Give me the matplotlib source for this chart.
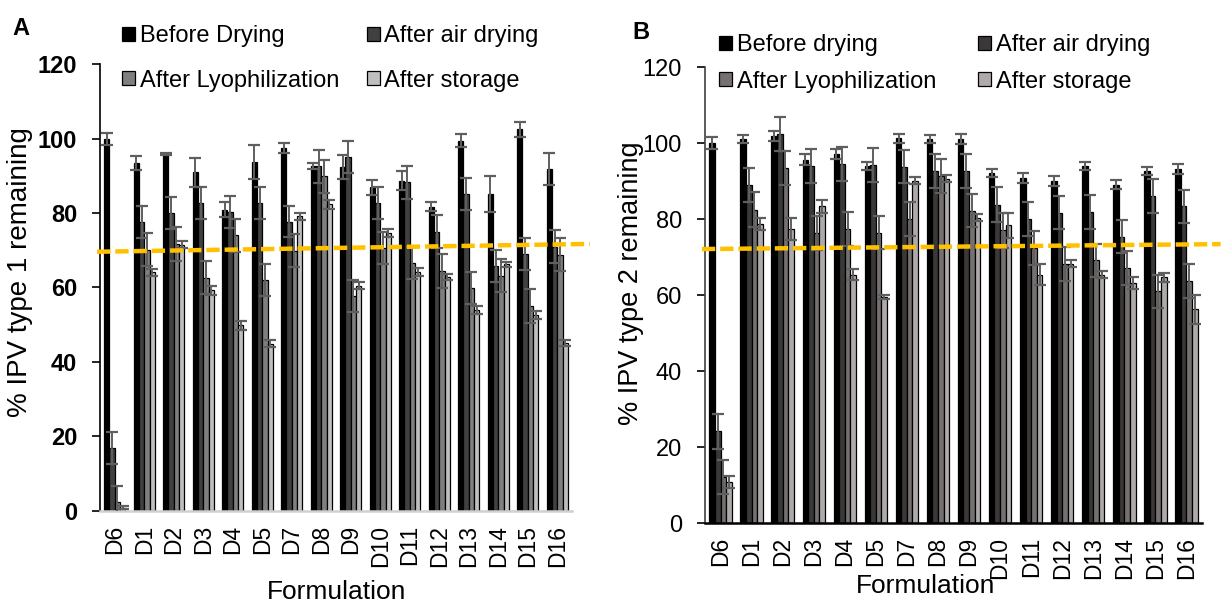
import matplotlib
matplotlib.use("Agg")
import matplotlib.pyplot as plt
import numpy as np

plt.rcParams["font.family"] = ["Liberation Sans", "DejaVu Sans"]

# ── data ─────────────────────────────────────────────────────────────────────
forms = ["D6", "D1", "D2", "D3", "D4", "D5", "D7", "D8",
         "D9", "D10", "D11", "D12", "D13", "D14", "D15", "D16"]

# panel A: IPV type 1
a_before = [99.8, 93.4, 95.8, 90.9, 80.9, 93.7, 97.4, 92.7, 92.4, 86.9, 88.7, 81.7, 99.4, 85.1, 102.5, 91.8]
a_before_err = [1.6, 1.8, 0.3, 3.8, 2.0, 4.6, 1.3, 0.8, 3.2, 2.0, 2.5, 1.2, 1.7, 4.7, 2.0, 4.3]
a_air = [17.0, 77.5, 80.0, 82.7, 80.3, 82.6, 77.7, 92.5, 95.1, 82.6, 88.2, 75.0, 85.1, 65.8, 69.0, 71.0]
a_air_err = [4.3, 4.3, 4.4, 4.2, 4.3, 4.3, 4.2, 4.4, 4.3, 4.3, 4.4, 4.4, 4.3, 4.3, 4.4, 4.5]
a_lyo = [2.3, 70.2, 71.7, 62.6, 74.0, 62.0, 69.9, 89.8, 57.6, 70.6, 66.6, 64.4, 59.8, 63.2, 55.1, 68.8]
a_lyo_err = [4.5, 4.5, 4.6, 4.4, 4.5, 4.4, 4.5, 4.5, 4.3, 4.4, 4.4, 4.5, 4.3, 4.5, 4.5, 4.5]
a_store = [0.9, 64.1, 71.5, 59.2, 49.8, 44.9, 79.1, 82.4, 60.5, 74.6, 64.1, 62.8, 54.0, 66.2, 52.6, 45.1]
a_store_err = [0.5, 0.9, 0.9, 1.2, 1.1, 1.0, 0.9, 1.2, 0.9, 1.0, 1.0, 0.9, 1.0, 0.7, 1.0, 0.9]
a_thresh = [69.6, 71.7]  # dashed reference line, left -> right

# panel B: IPV type 2
b_before = [99.9, 101.0, 101.9, 95.6, 97.1, 93.9, 101.2, 101.0, 101.0, 92.1, 90.8, 90.1, 93.9, 89.0, 92.7, 93.2]
b_before_err = [1.6, 1.1, 1.3, 1.4, 1.4, 1.1, 1.1, 1.0, 1.3, 1.1, 1.2, 1.3, 1.1, 1.2, 1.1, 1.3]
b_air = [24.1, 89.0, 102.4, 94.0, 94.5, 94.3, 93.8, 92.6, 92.6, 83.8, 80.0, 81.7, 81.8, 75.4, 86.1, 83.3]
b_air_err = [4.5, 4.4, 4.5, 4.5, 4.4, 4.5, 4.4, 4.5, 4.5, 4.5, 4.5, 4.4, 4.5, 4.4, 4.5, 4.4]
b_lyo = [12.2, 82.5, 93.4, 76.3, 77.3, 76.4, 80.0, 91.4, 82.2, 77.0, 72.4, 68.2, 69.1, 67.1, 61.0, 63.6]
b_lyo_err = [4.5, 4.5, 4.4, 4.4, 4.5, 4.4, 4.5, 4.5, 4.4, 4.5, 4.5, 4.4, 4.4, 4.5, 4.4, 4.5]
b_store = [10.8, 78.7, 77.3, 83.3, 65.4, 59.5, 90.1, 90.6, 80.3, 78.3, 65.4, 68.2, 65.4, 63.2, 64.7, 56.3]
b_store_err = [1.7, 1.5, 2.9, 1.6, 1.4, 0.6, 0.9, 0.9, 0.9, 3.2, 2.7, 0.9, 0.8, 1.5, 1.2, 3.8]
b_thresh = [72.1, 73.4]

labels_a = ["Before Drying", "After air drying", "After Lyophilization", "After storage"]
labels_b = ["Before drying", "After air drying", "After Lyophilization", "After storage"]
colors_a = ["#000000", "#404040", "#7f7f7f", "#bfbfbf"]
colors_b = ["#000000", "#3b3838", "#767171", "#aeaaaa"]

fig = plt.figure(figsize=(12.24, 6.05), dpi=100)
axA = fig.add_axes([0.0817, 0.1554, 0.3856, 0.7388])
axB = fig.add_axes([0.576, 0.1355, 0.406, 0.7537])

x = np.arange(len(forms))
W = 0.18


def draw(ax, series, errs, labels, colors, thresh, bold, bottom_col):
    handles = []
    for i, (vals, err) in enumerate(zip(series, errs)):
        pos = x + (i - 1.5) * W
        h = ax.bar(pos, vals, W, color=colors[i], edgecolor="black", lw=0.9,
                   label=labels[i], zorder=2)
        ax.errorbar(pos, vals, yerr=err, fmt="none", ecolor="#5f5f5f",
                    elinewidth=1.4, capsize=4.3, capthick=1.6, zorder=3)
        handles.append(h)
    ax.plot([-0.6, 16.1], thresh, color="#FFC000", lw=3.2,
            ls=(0, (3, 1.1)), clip_on=False, zorder=4)
    ax.set_xlim(-0.5, 15.5)
    ax.set_ylim(0, 120)
    ax.set_yticks(np.arange(0, 121, 20))
    ax.set_xticks(x)
    ax.set_xticklabels(forms, rotation=90, fontsize=16.5)
    ax.tick_params(axis="x", length=0, pad=10)
    ax.tick_params(axis="y", length=5.5, width=1.2, pad=11, labelsize=17)
    if bold:
        for t in ax.get_yticklabels():
            t.set_fontweight("bold")
    for s in ("top", "right"):
        ax.spines[s].set_visible(False)
    ax.spines["bottom"].set_color(bottom_col)
    ax.spines["bottom"].set_linewidth(1.8)
    ax.spines["left"].set_linewidth(1.2)
    return handles


hA = draw(axA, [a_before, a_air, a_lyo, a_store],
          [a_before_err, a_air_err, a_lyo_err, a_store_err],
          labels_a, colors_a, a_thresh, True, "#d0d0d0")
hB = draw(axB, [b_before, b_air, b_lyo, b_store],
          [b_before_err, b_air_err, b_lyo_err, b_store_err],
          labels_b, colors_b, b_thresh, False, "black")
axB.spines["left"].set_color("#404040")

axA.set_ylabel("% IPV type 1 remaining", fontsize=20)
axA.yaxis.set_label_coords(-0.142, 0.535)
axA.set_xlabel("Formulation", fontsize=19)
axA.xaxis.set_label_coords(0.502, -0.155)

axB.set_ylabel("% IPV type 2 remaining", fontsize=19.5)
axB.yaxis.set_label_coords(-0.122, 0.527)
axB.set_xlabel("Formulation", fontsize=19)
axB.xaxis.set_label_coords(0.443, -0.112)

# legend fills column-wise: reorder so rows read Before/Air, Lyo/Storage
order = [0, 2, 1, 3]
legA = fig.legend(handles=[hA[i] for i in order],
                  labels=[labels_a[i] for i in order], ncol=2, frameon=False,
                  fontsize=17, loc="upper left",
                  bbox_to_anchor=(113 / 1224, 1 - 16 / 605),
                  handlelength=0.55, handleheight=0.55, handletextpad=0.2,
                  columnspacing=1.15, labelspacing=0.94, borderaxespad=0)
legB = fig.legend(handles=[hB[i] for i in order],
                  labels=[labels_b[i] for i in order], ncol=2, frameon=False,
                  fontsize=17, loc="upper left",
                  bbox_to_anchor=(710 / 1224, 1 - 25 / 605),
                  handlelength=0.55, handleheight=0.55, handletextpad=0.2,
                  columnspacing=1.75, labelspacing=0.6, borderaxespad=0)

fig.text(12 / 1224, 1 - 35 / 605, "A", fontsize=17, fontweight="bold")
fig.text(632 / 1224, 1 - 39 / 605, "B", fontsize=17, fontweight="bold")

fig.savefig("out.png", dpi=100)
